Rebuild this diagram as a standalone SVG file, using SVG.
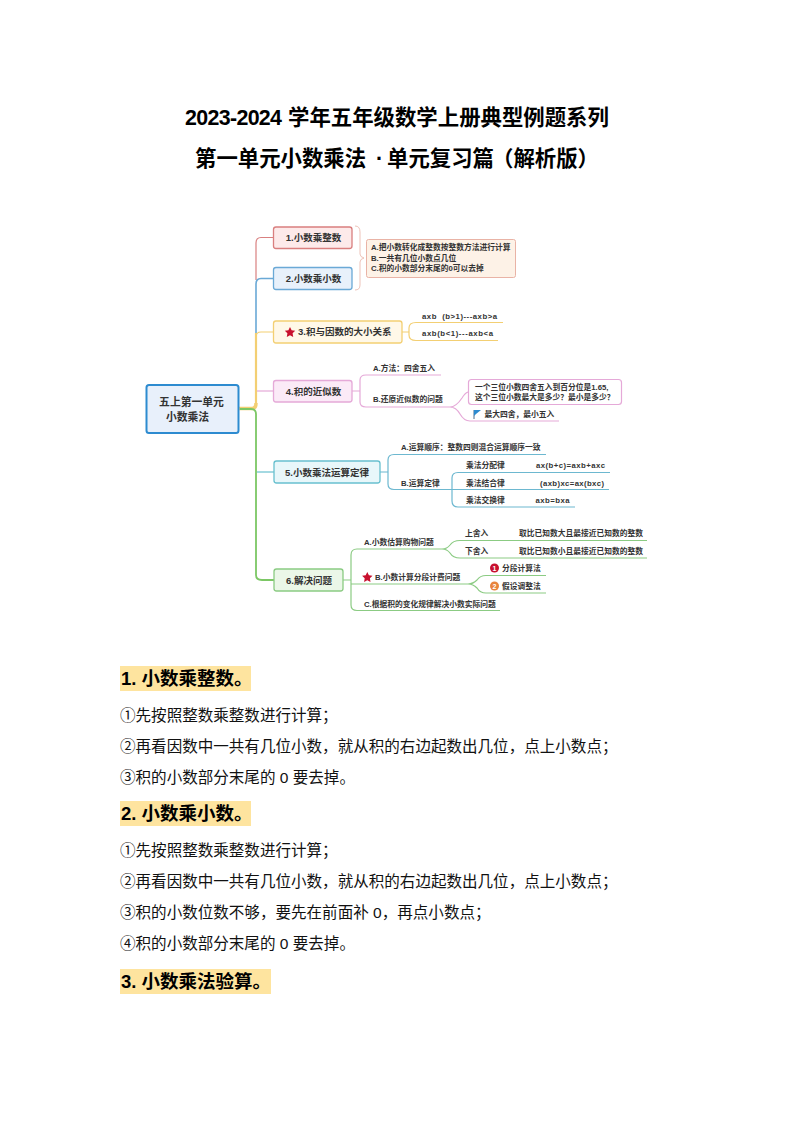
<svg xmlns="http://www.w3.org/2000/svg" width="794" height="1123" viewBox="0 0 794 1123">
<style>
text{font-family:"Liberation Sans","Noto Sans CJK SC",sans-serif;fill:#222}
.t{font-size:21.4px;font-weight:700;fill:#000}
.n{font-size:9.5px;font-weight:700;text-anchor:middle;fill:#333}
.s{font-size:7.75px;font-weight:700;fill:#333}
.h{font-size:18.5px;font-weight:700;fill:#000}
.b{font-size:15.55px;fill:#111}
.c{fill:none;stroke-width:1.2}
.box{stroke-width:1.3}
</style>
<rect width="794" height="1123" fill="#fff"/>
<text class="t" y="125"><tspan x="185" textLength="97">2023-2024</tspan><tspan x="288">学年五年级数学上册典型例题系列</tspan></text>
<text class="t" y="166"><tspan x="195">第一单元小数乘法</tspan><tspan x="376">·</tspan><tspan x="387">单元复习篇</tspan><tspan x="492">（解析版）</tspan></text>

<g id="connectors">
<path class="c" stroke="#d98080" d="M273 237.500H261Q256 237.500 256 243V280"/>
<path class="c" stroke="#6aa9d6" style="stroke-width:1.600" d="M273 278.500H261Q256 278.500 256 284V335"/>
<path class="c" stroke="#f3cf73" d="M273 332H261Q256 332 256 337"/>
<path class="c" stroke="#f3cf73" style="stroke-width:2.200" d="M256 333V403"/>
<path class="c" stroke="#e5a9d8" d="M257 391H273"/>
<path class="c" stroke="#f3cf73" style="stroke-width:3.500" d="M239 408.500H252Q256 408.500 256 403"/>
<path class="c" stroke="#7cc765" style="stroke-width:1.800" d="M240 409H251Q256 409 256 414V575Q256 580 262 580H274"/>
<path class="c" stroke="#68c0cf" d="M257 472H274"/>
<path class="c" stroke="#e9b3a6" style="stroke-width:0.800" d="M355 226Q360 226 360 232V254Q360 257 364 258Q360 259 360 262V285Q360 290 355 290"/>
<path class="c" stroke="#f3cf73" d="M402 332H409M503 322.500H416Q409 322.500 409 328V335Q409 340.500 416 340.500H498"/>
<path class="c" stroke="#e5a9d8" d="M352 391H360M441 375H366Q360 375 360 380V402Q360 407 366 407H450Q456 407 462 398Q465 393 468 392M450 407Q456 407 460 414Q464 421 470 421H559"/>
<path class="c" stroke="#6db8d0" d="M380 472H388M546 454.500H394Q388 454.500 388 460V484Q388 489.500 394 489.500H609M610 472.500H458Q452 472.500 452 478V501Q452 507 458 507H575"/>
<path class="c" stroke="#8bcb83" d="M343 580H351M442 549H357Q351 549 351 555V605Q351 610.500 357 610.500H500M442 549Q447 549 450 545Q453 540.500 460 540.500H647M442 549Q447 549 450 553Q453 558 460 558H647M351 584H468Q473 584 477 580Q480 575.500 486 575.500H546M468 584Q473 584 477 588Q480 593 486 593H546"/>
</g>

<g id="root"><rect x="146.500" y="385" width="92" height="48" rx="2.500" fill="#e8f0fb" stroke="#2d8bd0" style="stroke-width:2"/>
<text x="191.500" y="406" class="n" style="font-size:10.800px">五上第一单元</text><text x="187.500" y="421" class="n" style="font-size:10.800px">小数乘法</text></g>

<g id="n1"><rect class="box" x="273.500" y="227" width="78.500" height="21.500" rx="2.500" fill="#fdeaea" stroke="#d97f7f"/><text class="n" x="313.500" y="241">1.小数乘整数</text></g>
<g id="n2"><rect class="box" x="273.500" y="267.500" width="78.500" height="22" rx="2.500" fill="#e8f1fb" stroke="#6aa9d6"/><text class="n" x="313.500" y="282">2.小数乘小数</text></g>
<g id="n3"><rect class="box" x="273.500" y="321" width="128.500" height="22" rx="2.500" fill="#fff8e8" stroke="#f3cf73"/><polygon fill="#c8102e" points="290,327 291.600,330.300 295.200,330.800 292.600,333.300 293.200,337 290,335.200 286.800,337 287.400,333.300 284.800,330.800 288.400,330.300"/><text class="n" x="298" y="335" style="text-anchor:start">3.积与因数的大小关系</text></g>
<g id="n4"><rect class="box" x="273.500" y="380.500" width="78.500" height="21.500" rx="2.500" fill="#fbeaf7" stroke="#e5a9d8"/><text class="n" x="313.500" y="395">4.积的近似数</text></g>
<g id="n5"><rect class="box" x="274" y="461" width="106" height="22" rx="2.500" fill="#e8f7fa" stroke="#68c0cf"/><text class="n" x="327" y="476">5.小数乘法运算定律</text></g>
<g id="n6"><rect class="box" x="274" y="569" width="69" height="22" rx="2.500" fill="#ebf7e8" stroke="#8bcb83"/><text class="n" x="309" y="584">6.解决问题</text></g>

<g id="note"><rect x="366.500" y="239.500" width="149" height="38" rx="2" fill="#fdf2e7" stroke="#e9b3a6"/>
<text class="s" x="371" y="250">A.把小数转化成整数按整数方法进行计算</text><text class="s" x="371" y="261">B.一共有几位小数点几位</text><text class="s" x="371" y="271">C.积的小数部分末尾的0可以去掉</text></g>

<g id="n3a"><text class="s" x="422" y="319" textLength="75" xml:space="preserve">axb  (b&gt;1)---axb&gt;a</text></g>
<g id="n3b"><text class="s" x="422" y="336" textLength="71">axb(b&lt;1)---axb&lt;a</text></g>
<g id="n4a"><text class="s" x="373" y="371">A.方法：四舍五入</text></g>
<g id="n4b"><text class="s" x="373" y="402">B.还原近似数的问题</text></g>
<g id="n4c"><rect x="468.500" y="379.500" width="153" height="25" rx="3" fill="#fff" stroke="#e5a9d8" stroke-width="1.200"/><text class="s" x="475" y="389.500">一个三位小数四舍五入到百分位是1.65,</text><text class="s" x="475" y="399.500">这个三位小数最大是多少？最小是多少？</text></g>
<g id="n4d"><path d="M474 410V419" stroke="#4a6d8c" stroke-width="1"/><polygon points="474,410 481,410 476,414 474,416" fill="#2d8bd0"/><text class="s" x="484.500" y="417">最大四舍，最小五入</text></g>
<g id="n5a"><text class="s" x="401" y="450">A.运算顺序：整数四则混合运算顺序一致</text></g>
<g id="n5b"><text class="s" x="401" y="485.500">B.运算定律</text></g>
<g id="n5c"><text class="s" x="466" y="468">乘法分配律</text><text class="s" x="536" y="468" textLength="69">ax(b+c)=axb+axc</text></g>
<g id="n5d"><text class="s" x="466" y="485.500">乘法结合律</text><text class="s" x="540" y="485.500" textLength="64">(axb)xc=ax(bxc)</text></g>
<g id="n5e"><text class="s" x="466" y="503">乘法交换律</text><text class="s" x="535.500" y="503" textLength="34">axb=bxa</text></g>
<g id="n6a"><text class="s" x="364" y="544.500">A.小数估算购物问题</text></g>
<g id="n6a1"><text class="s" x="465" y="536">上舍入</text><text class="s" x="519" y="536">取比已知数大且最接近已知数的整数</text></g>
<g id="n6a2"><text class="s" x="465" y="553.500">下舍入</text><text class="s" x="519" y="553.500">取比已知数小且最接近已知数的整数</text></g>
<g id="n6b"><polygon fill="#c8102e" points="367.300,572 368.900,575.300 372.500,575.800 369.900,578.300 370.500,582 367.300,580.200 364.100,582 364.700,578.300 362.100,575.800 365.700,575.300"/><text class="s" x="375" y="580">B.小数计算分段计费问题</text></g>
<g id="n6b1"><circle cx="494.500" cy="568" r="4.500" fill="#c8102e"/><text x="494.500" y="570.500" style="font-size:7px;font-weight:700;fill:#fff;text-anchor:middle">1</text><text class="s" x="502" y="571">分段计算法</text></g>
<g id="n6b2"><circle cx="494.500" cy="586" r="4.500" fill="#e8843c"/><text x="494.500" y="588.500" style="font-size:7px;font-weight:700;fill:#fff;text-anchor:middle">2</text><text class="s" x="502" y="589">假设调整法</text></g>
<g id="n6c"><text class="s" x="364" y="606.500">C.根据积的变化规律解决小数实际问题</text></g>

<g id="body">
<rect x="120" y="666" width="131" height="25" fill="#fee49f"/>
<text class="h" x="121" y="685">1. 小数乘整数。</text>
<text class="b" x="120" y="721">①先按照整数乘整数进行计算；</text>
<text class="b" x="120" y="752">②再看因数中一共有几位小数，就从积的右边起数出几位，点上小数点；</text>
<text class="b" x="120" y="783">③积的小数部分末尾的 0 要去掉。</text>
<rect x="120" y="801" width="131" height="25" fill="#fee49f"/>
<text class="h" x="121" y="820">2. 小数乘小数。</text>
<text class="b" x="120" y="856">①先按照整数乘整数进行计算；</text>
<text class="b" x="120" y="887">②再看因数中一共有几位小数，就从积的右边起数出几位，点上小数点；</text>
<text class="b" x="120" y="918">③积的小数位数不够，要先在前面补 0，再点小数点；</text>
<text class="b" x="120" y="949">④积的小数部分末尾的 0 要去掉。</text>
<rect x="120" y="969" width="151" height="25" fill="#fee49f"/>
<text class="h" x="121" y="988">3. 小数乘法验算。</text>
</g>
</svg>
